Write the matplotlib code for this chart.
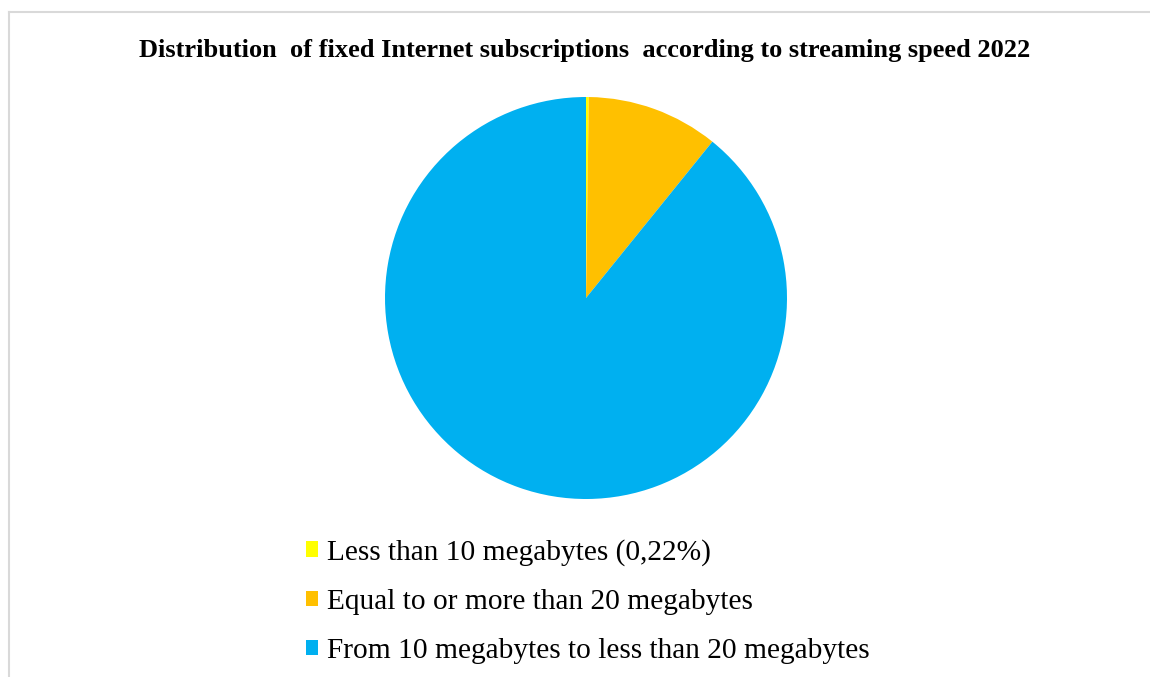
import matplotlib.pyplot as plt
from matplotlib.lines import Line2D

# shares of fixed internet subscriptions (%)
labels = ["Less than 10 megabytes (0,22%)",
          "Equal to or more than 20 megabytes",
          "From 10 megabytes to less than 20 megabytes"]
shares = [0.22, 10.6, 89.18]
colors = ["#FFFF00", "#FFC000", "#00B0F0"]

title = "Distribution  of fixed Internet subscriptions  according to streaming speed 2022"

W, H = 1150, 677
fig = plt.figure(figsize=(W / 100, H / 100), dpi=100)

# pie, centre ~ (586, 298) px, radius ~ 201 px
cx, cy, r = 586, 298, 201
ax = fig.add_axes([(cx - r) / W, (H - cy - r) / H, 2 * r / W, 2 * r / H])
wedges, _ = ax.pie(shares, colors=colors, startangle=90, counterclock=False,
                   radius=1.0, wedgeprops=dict(linewidth=0))
ax.set_xlim(-1, 1)
ax.set_ylim(-1, 1)
ax.set_aspect("equal")

fig.text(585 / W, 1 - 51 / H, title, ha="center", va="center",
         fontsize=19, fontweight="bold", family="Liberation Serif")

leg = fig.legend(wedges, labels, loc="upper left",
                 bbox_to_anchor=(306 / W, 1 - 539 / H),
                 frameon=False, borderpad=0, borderaxespad=0,
                 handlelength=0.42, handleheight=0.42,
                 handletextpad=0.28, labelspacing=0.78,
                 prop=dict(family="Liberation Serif", size=21.2))

# light grey frame of the chart area
frame = dict(color="#D9D9D9", linewidth=1.5, transform=fig.transFigure)
fig.add_artist(Line2D([9 / W, 1], [1 - 12 / H, 1 - 12 / H], **frame))
fig.add_artist(Line2D([9 / W, 9 / W], [0, 1 - 12 / H], **frame))

fig.savefig("out.png", dpi=100)
